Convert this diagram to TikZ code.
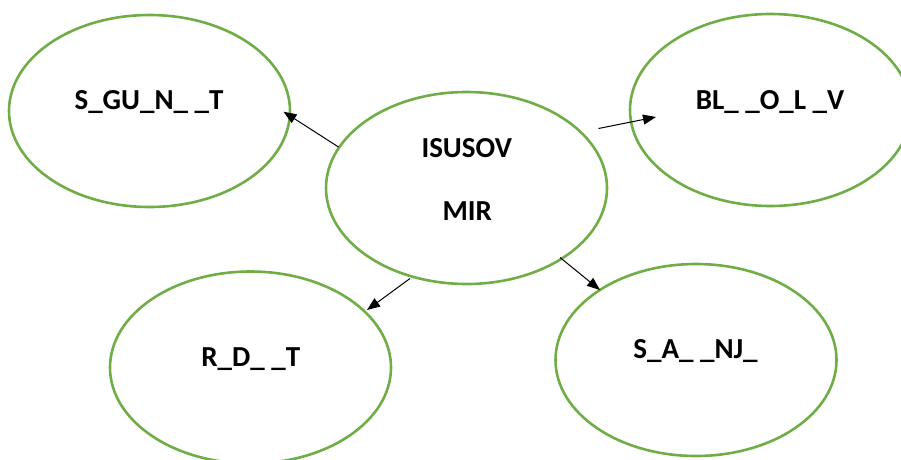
\documentclass[tikz,border=0pt]{standalone}
\usepackage{fontspec}
\setmainfont{Carlito}
\usetikzlibrary{arrows.meta,shapes.geometric}
\definecolor{ogreen}{HTML}{70AD47}
\begin{document}
\begin{tikzpicture}[x=1pt,y=-1pt,
  bubble/.style={ellipse,draw=ogreen,line width=2.6pt,minimum width=281pt,minimum height=192pt,inner sep=0pt},
  word/.style={font=\fontsize{29}{32}\selectfont\bfseries,inner sep=0pt,anchor=base},
  conn/.style={draw=black,line width=1pt,-{Triangle[length=13pt,width=10pt]}}]
\useasboundingbox (0,0) rectangle (901,459);
\node[bubble] (tl) at (149.5,111) {};
\node[bubble] (c) at (466.5,188) {};
\node[bubble] (tr) at (770.5,110) {};
\node[bubble] (bl) at (250.5,367.5) {};
\node[bubble] (br) at (696,360) {};
\node[word] (tlt) at (149,109.3) {S\_GU\_N\_ \_T};
\node[word] (ct1) at (466.7,157.3) {ISUSOV};
\node[word] (ct2) at (467.3,220) {MIR};
\node[word] (trt) at (770,109) {BL\_ \_O\_L \_V};
\node[word] (blt) at (250.8,366) {R\_D\_ \_T};
\node[word] (brt) at (695.5,358) {S\_A\_ \_NJ\_};
\coordinate (a1s) at ([shift={(-128pt,41pt)}]c.center);
\coordinate (a1e) at ([shift={(134pt,-0.7pt)}]tl.center);
\coordinate (a2s) at ([shift={(132pt,59.5pt)}]c.center);
\coordinate (a2e) at ([shift={(-114.5pt,-7pt)}]tr.center);
\coordinate (a3s) at ([shift={(-56.5pt,-90.5pt)}]c.center);
\coordinate (a3e) at ([shift={(116.5pt,57.5pt)}]bl.center);
\coordinate (a4s) at ([shift={(93.5pt,-69.5pt)}]c.center);
\coordinate (a4e) at ([shift={(-96pt,70pt)}]br.center);
\draw[conn] (a1s) -- (a1e);
\draw[conn] (a2s) -- (a2e);
\draw[conn] (a3s) -- (a3e);
\draw[conn] (a4s) -- (a4e);
\end{tikzpicture}
\end{document}
